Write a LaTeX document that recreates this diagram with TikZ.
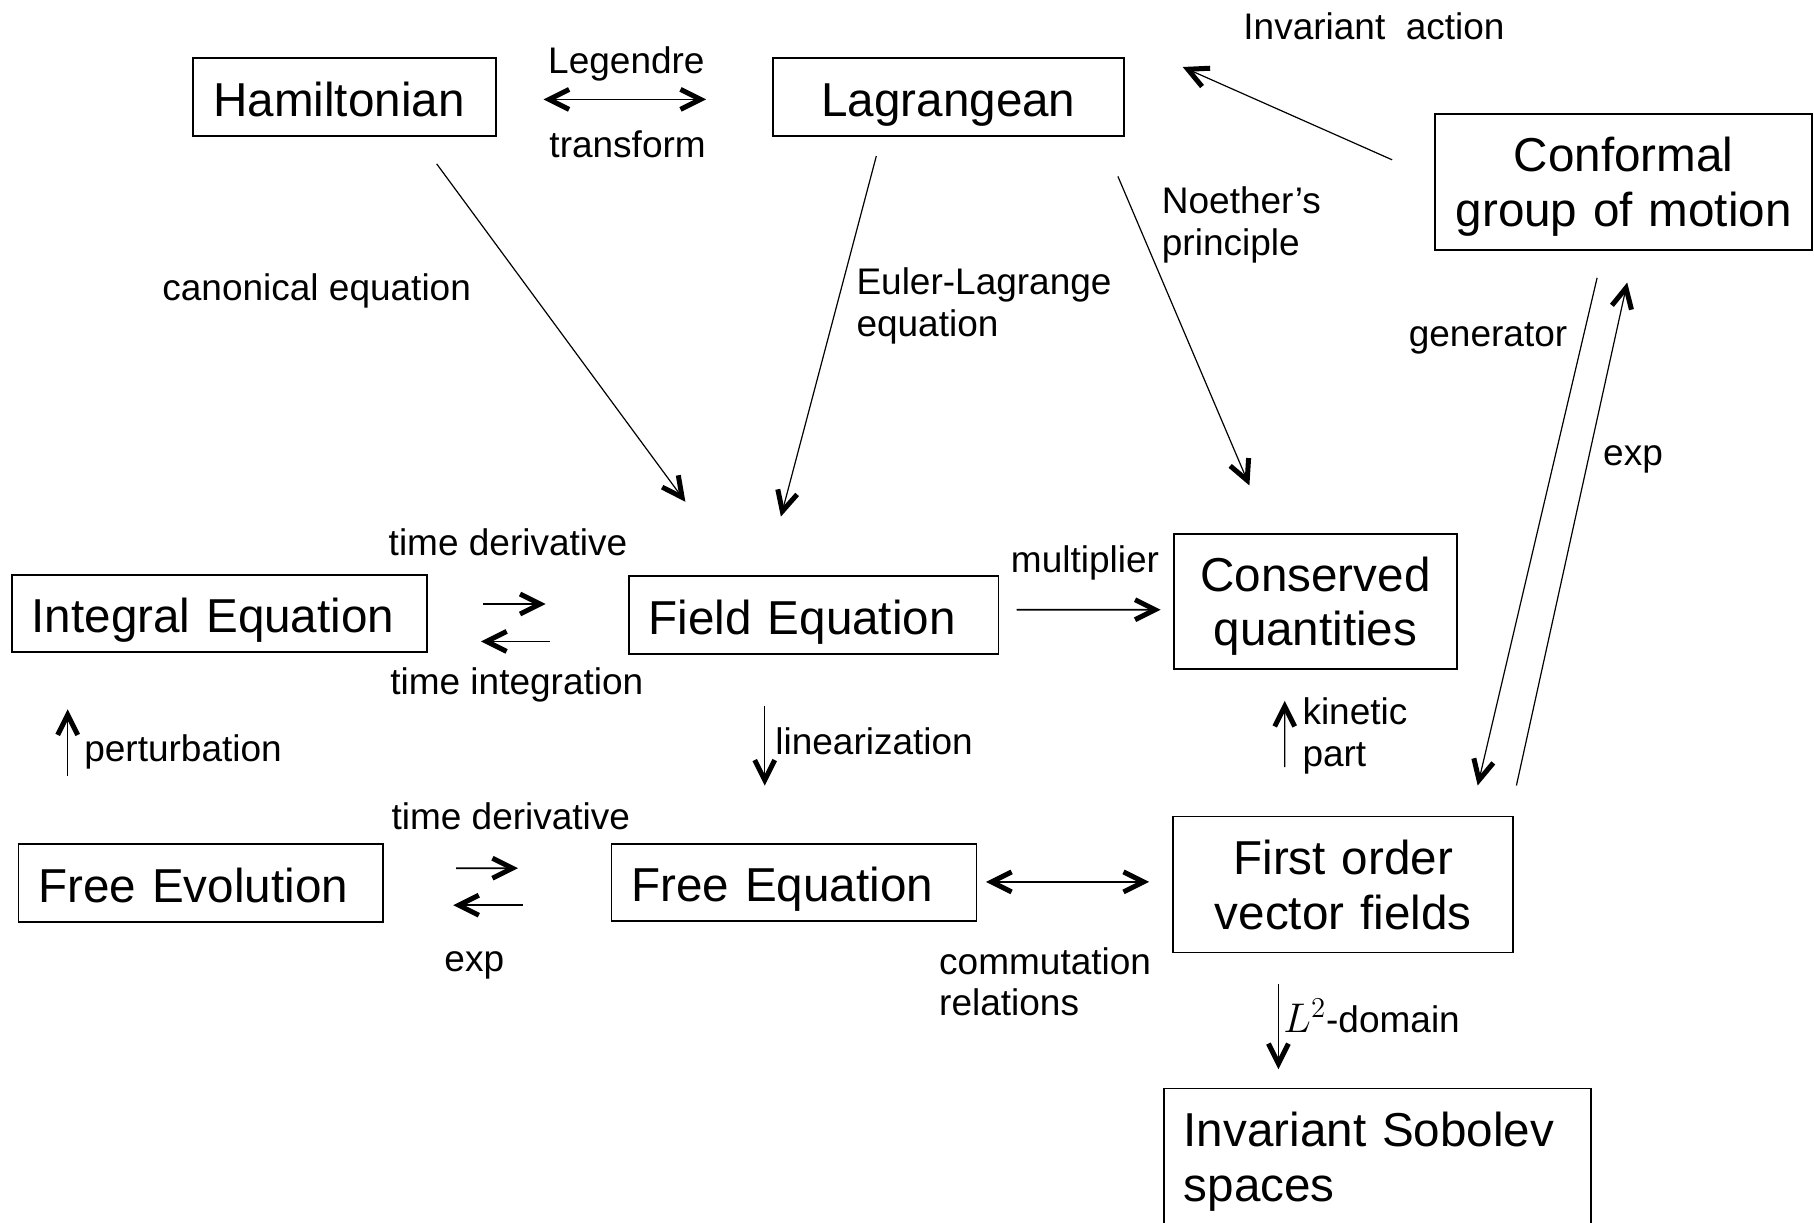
\documentclass[tikz,border=0pt]{standalone}
\usepackage[no-math]{fontspec}
\setmainfont{Liberation Sans}
\usepackage{amsmath}
\usetikzlibrary{arrows.meta,calc}
\newcommand{\boxfnt}{\fontsize{23.8}{27.3}\selectfont}
\newcommand{\lblfnt}{\fontsize{18.5}{20.8}\selectfont}

\begin{document}
\begin{tikzpicture}[x=0.5pt,y=0.5pt,yscale=-1,xscale=1,
  >={Straight Barb[length=10pt,width=10pt,line width=2.5pt]},
  box/.style={draw,line width=0.9pt,inner ysep=0pt,font=\boxfnt,text height=19.3pt,text depth=0pt},
  lbox/.style={box,inner xsep=10pt,align=left},
  cbox/.style={box,inner xsep=5pt,align=center},
  two/.style={text height=17.3pt,text depth=27.3pt},
  lbl/.style={inner sep=0pt,font=\lblfnt},
  link/.style={line width=0.6pt},
  thk/.style={line width=0.9pt}]
\useasboundingbox (0,0) rectangle (1814,1222);

\node[lbox,text width=131.5pt,minimum height=39pt] (ham) at (344.8,96.7) {Hamiltonian};
\node[cbox,text width=165.5pt,minimum height=39pt] (lag) at (948.4,96.7) {Lagrangean};
\node[cbox,two,text width=178.5pt,minimum height=68pt] (conf) at (1623.7,181.6) {Conformal\\group of motion};
\node[lbox,text width=187.6pt,minimum height=38.5pt] (integ) at (219.3,613.4) {Integral Equation};
\node[lbox,text width=164.8pt,minimum height=39pt] (field) at (813.6,615) {Field Equation};
\node[cbox,two,text width=131.2pt,minimum height=67.4pt] (cons) at (1315.4,601.3) {Conserved\\quantities};
\node[lbox,text width=162.2pt,minimum height=39pt] (freeev) at (200.7,883) {Free Evolution};
\node[lbox,text width=162.5pt,minimum height=38.5pt] (freeeq) at (793.9,882.3) {Free Equation};
\node[cbox,two,text width=160pt,minimum height=68pt] (first) at (1343.2,884.4) {First order\\vector fields};
\node[lbox,two,text width=193.5pt,minimum height=68pt] (sob) at (1377.25,1156.4) {Invariant Sobolev\\spaces};

\node[lbl,anchor=base] (legA) at (626.4,73.3) {Legendre};
\node[lbl,anchor=base] (legB) at (627.6,157.8) {transform};
\node[lbl,anchor=base] (inv) at (1374,39) {Invariant\ \ action};
\node[lbl,anchor=base] (canon) at (316.7,300) {canonical equation};
\node[lbl,anchor=west,align=left] (euler) at (856.1,306) {Euler-Lagrange\\equation};
\node[lbl,anchor=west,align=left] (noether) at (1161.5,225.2) {Noether’s\\principle};
\node[lbl,anchor=base] (gen) at (1488,346.8) {generator};
\node[lbl,anchor=base] (expA) at (1633,465.7) {exp};
\node[lbl,anchor=base] (mult) at (1085,572) {multiplier};
\node[lbl,anchor=base] (tdA) at (508,555.3) {time derivative};
\node[lbl,anchor=base] (tint) at (516.8,694.8) {time integration};
\node[lbl,anchor=base west] (pert) at (83.9,761) {perturbation};
\node[lbl,anchor=base west] (lin) at (775,754.4) {linearization};
\node[lbl,anchor=base] (tdB) at (510.8,829.2) {time derivative};
\node[lbl,anchor=base] (expB) at (474.3,971.5) {exp};
\node[lbl,anchor=west,align=left] (kin) at (1302.1,735.9) {kinetic\\part};
\node[lbl,anchor=west,align=left] (comm) at (938.8,981.9) {commutation\\relations};
\node[lbl,anchor=base west] (ltwo) at (1283,1032.7) {{\fontsize{21}{21}\selectfont$L^2$}-domain};

\draw[thk,<->] ($(ham.east)+(46.3,2.7)$) -- ($(lag.west)+(-65.9,2.7)$);
\draw[link,->] ($(conf.west)+(-42.2,-21.8)$) -- ($(lag.east)+(57.9,-29.7)$);
\draw[link,->] ($(ham.south)+(91.9,27.3)$) -- ($(field.north)+(-128.2,-73.3)$);
\draw[link,->] ($(lag.south)+(-72.1,19.5)$) -- ($(field.north)+(-32.7,-58.5)$);
\draw[link,->] ($(lag.south east)+(-6.9,39.8)$) -- ($(cons.north)+(-66,-47.5)$);
\draw[link,->] ($(conf.south)+(-26.6,27.3)$) -- ($(first.north east)+(-36.4,-30)$);
\draw[link,->] ($(first.north east)+(2.3,-30)$) -- ($(conf.south)+(3.5,32)$);
\draw[thk,->] ($(integ.east)+(55.6,-9.4)$) -- ($(field.west)+(-82.2,-11)$);
\draw[thk,->] ($(field.west)+(-77.6,26.4)$) -- ($(integ.east)+(53.2,28)$);
\draw[thk,->] ($(field.east)+(17.4,-5.3)$) -- ($(cons.west)+(-12.7,8.4)$);
\draw[link,->] ($(freeev.north)+(-133,-67.4)$) -- ($(integ.south)+(-151.6,56.5)$);
\draw[link,->] ($(field.south)+(-48.9,50.6)$) -- ($(freeeq.north)+(-29.2,-57.3)$);
\draw[link,->] ($(first.north)+(-58.5,-48.4)$) -- ($(cons.south)+(-30.7,31.2)$);
\draw[thk,->] ($(freeev.east)+(72.3,-14.8)$) -- ($(freeeq.west)+(-92.5,-14.1)$);
\draw[thk,->] ($(freeeq.west)+(-87.9,22.9)$) -- ($(freeev.east)+(69.4,22.2)$);
\draw[thk,<->] ($(freeeq.east)+(8.7,-0.4)$) -- ($(first.west)+(-23.2,-2.5)$);
\draw[link,->] ($(first.south)+(-64.8,30.8)$) -- ($(sob.north)+(-98.85,-18.3)$);
\end{tikzpicture}
\end{document}
